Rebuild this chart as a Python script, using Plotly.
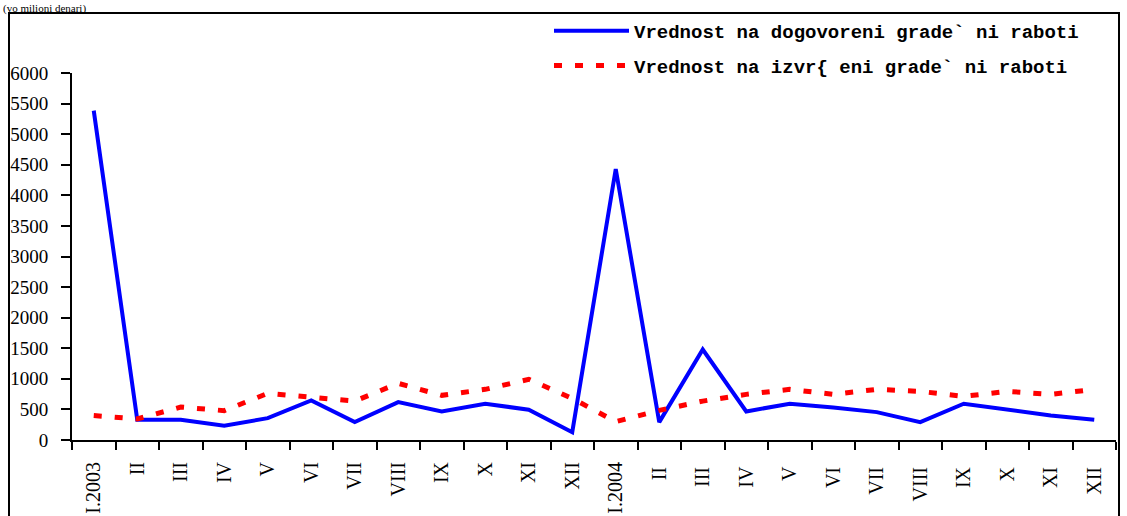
import plotly.graph_objects as go

months = ["I.2003", "II", "III", "IV", "V", "VI", "VII", "VIII", "IX", "X", "XI", "XII",
          "I.2004", "II ", "III ", "IV ", "V ", "VI ", "VII ", "VIII ", "IX ", "X ", "XI ", "XII "]
contracted = [5385, 331, 331, 232, 357, 648, 292, 620, 467, 593, 495, 128,
              4430, 292, 1479, 467, 593, 533, 456, 292, 593, 500, 402, 331]
completed = [400, 345, 538, 480, 762, 697, 636, 926, 730, 828, 992, 680,
             300, 484, 636, 746, 828, 746, 828, 795, 713, 795, 746, 828]
series_names = ["Vrednost na dogovoreni grade` ni raboti",
                 "Vrednost na izvr{ eni grade` ni raboti"]
yticks = list(range(0, 6001, 500))
unit_label = "(vo milioni denari)"

W, H = 1127, 516
L, R, T, B = 72, 11, 73, 76
ph = H - T - B
pw = W - L - R

def py(px):
    return (H - B - px) / ph

def px_(x):
    return (x - L) / pw

fig = go.Figure()
fig.add_trace(go.Scatter(x=months, y=contracted, mode="lines", name=series_names[0],
                         line=dict(color="#0000FF", width=4), legendgroup="a"))
fig.add_trace(go.Scatter(x=months, y=completed, mode="lines", name=series_names[1],
                         line=dict(color="#FF0000", width=5, dash="8px,13px"), legendgroup="b"))

fig.update_layout(
    template="none",
    width=W, height=H,
    margin=dict(l=L, r=R, t=T, b=B, autoexpand=False),
    paper_bgcolor="white", plot_bgcolor="white",
    showlegend=True,
    legend=dict(x=px_(549), y=py(12), xanchor="left", yanchor="top",
                bgcolor="rgba(0,0,0,0)", tracegroupgap=7, itemwidth=75,
                font=dict(family="Liberation Mono", size=19, color="black", weight="bold")),
    xaxis=dict(type="category", range=[-0.5, 23.5], tickson="boundaries", automargin=False,
               showline=True, linecolor="black", linewidth=2,
               ticks="outside", ticklen=8, tickwidth=2, tickcolor="black",
               tickangle=-90, showgrid=False, zeroline=False, ticklabelstandoff=12,
               tickfont=dict(family="Liberation Serif", size=20, color="black")),
    yaxis=dict(range=[0, 6000], tickvals=yticks, ticktext=[str(v) for v in yticks],
               automargin=False,
               showline=True, linecolor="black", linewidth=2,
               ticks="outside", ticklen=9, tickwidth=2, tickcolor="black",
               showgrid=False, zeroline=False, ticklabelstandoff=9,
               tickfont=dict(family="Liberation Serif", size=19, color="black")),
    shapes=[dict(type="rect", xref="paper", yref="paper",
                 x0=px_(9), x1=px_(1119), y0=py(530), y1=py(13),
                 line=dict(color="black", width=2), fillcolor="rgba(0,0,0,0)", layer="above")],
    annotations=[dict(text=unit_label, xref="paper", yref="paper", x=px_(1), y=py(0),
                      xanchor="left", yanchor="top", showarrow=False,
                      font=dict(family="Liberation Serif", size=11, color="black"))],
)

fig.write_html("out.html", config={"displayModeBar": False},
               post_script="document.body.style.margin='0';document.body.style.padding='0';")
